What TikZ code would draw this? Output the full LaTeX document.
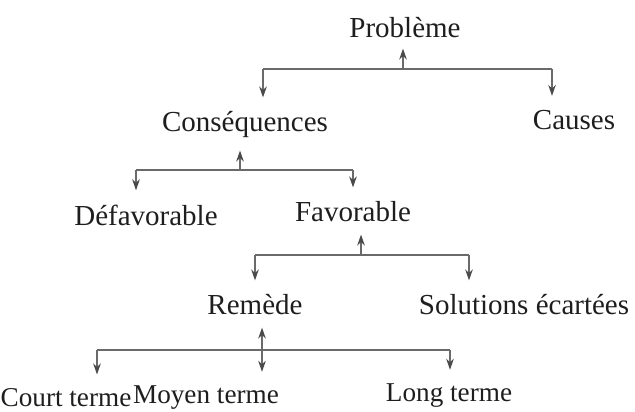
\documentclass[tikz,border=0pt]{standalone}
\usepackage{fontspec}
\setmainfont{Liberation Serif}
\usepackage{xcolor}
\usepackage{tikz}
\usetikzlibrary{arrows.meta}

\definecolor{ink}{HTML}{1E1E1E}
\definecolor{wire}{HTML}{6A6A6A}
\definecolor{tip}{HTML}{4A4A4A}

\tikzset{
  mot/.style={text=ink, inner sep=0pt, font=\fontsize{14.5}{17}\selectfont},
  petitmot/.style={mot, font=\fontsize{13.6}{16}\selectfont},
  bar/.style={draw=wire, line width=0.6pt},
  fleche/.style={bar, -{Stealth[length=5.5pt,width=3.8pt,color=tip]}}
}

\begin{document}
\begin{tikzpicture}[x=0.5pt,y=-0.5pt]
\useasboundingbox (0,0) rectangle (635,411);
% les mots
\node[mot] (prob) at (405,28) {Problème};
\node[mot] (cons) at (245,125) {Conséquences};
\node[mot] (causes) at (574,120) {Causes};
\node[mot] (defav) at (146,215) {Défavorable};
\node[mot] (fav) at (353,212) {Favorable};
\node[mot] (remede) at (255,305) {Remède};
\node[mot] (solut) at (524,305) {Solutions écartées};
\node[petitmot] (court) at (66,398) {Court terme};
\node[petitmot] (moyen) at (206,398) {Moyen terme};
\node[petitmot] (long) at (449,396) {Long terme};
% Problème
\coordinate (m1) at (403,69);
\coordinate (g1) at (263,69);
\coordinate (d1) at (552,69);
\draw[bar] (g1) -- (d1);
\draw[fleche] (m1) -- ([yshift=-5pt]m1 |- prob.south);
\draw[fleche] (g1) -- ([yshift=7pt]g1 |- cons.north);
\draw[fleche] (d1) -- ([yshift=7pt]d1 |- causes.north);
% Conséquences
\coordinate (m2) at (240,170);
\coordinate (g2) at (136,170);
\coordinate (d2) at (353,170);
\draw[bar] (g2) -- (d2);
\draw[fleche] (m2) -- ([yshift=-6pt]m2 |- cons.south);
\draw[fleche] (g2) -- ([yshift=7pt]g2 |- defav.north);
\draw[fleche] (d2) -- ([yshift=7pt]d2 |- fav.north);
% Favorable
\coordinate (m3) at (361,255);
\coordinate (g3) at (255,255);
\coordinate (d3) at (469,255);
\draw[bar] (g3) -- (d3);
\draw[fleche] (m3) -- ([yshift=-6pt]m3 |- fav.south);
\draw[fleche] (g3) -- ([yshift=7pt]g3 |- remede.north);
\draw[fleche] (d3) -- ([yshift=7pt]d3 |- solut.north);
% Remède
\coordinate (m4) at (262,350);
\coordinate (g4) at (97,350);
\coordinate (d4) at (450,350);
\draw[bar] (g4) -- (d4);
\draw[fleche] (m4) -- ([yshift=-6pt]m4 |- remede.south);
\draw[fleche] (g4) -- ([yshift=7pt]g4 |- court.north);
\draw[fleche] (m4) -- ([yshift=7pt]m4 |- moyen.north);
\draw[fleche] (d4) -- ([yshift=7pt]d4 |- long.north);
\end{tikzpicture}
\end{document}
